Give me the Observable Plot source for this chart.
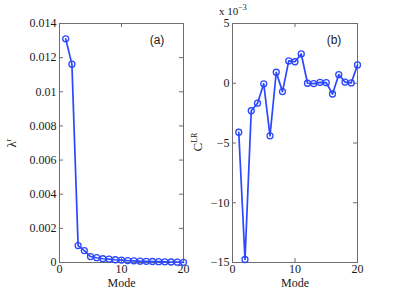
<!DOCTYPE html>
<html>
<head>
<meta charset="utf-8">
<script src="https://cdn.jsdelivr.net/npm/d3@7"></script>
<script src="https://cdn.jsdelivr.net/npm/@observablehq/plot@0.6"></script>
<style>
  html, body { margin: 0; padding: 0; background: #fff; }
  #wrap { position: relative; width: 393px; height: 295px; overflow: hidden; }
  #wrap svg { position: absolute; top: 0; }
</style>
</head>
<body>
<div id="wrap"></div>
<script>
// ---- data ----
const modes = [1,2,3,4,5,6,7,8,9,10,11,12,13,14,15,16,17,18,19,20];
const lambdaR = [0.0131,0.01162,0.00099,0.0007,0.00035,0.00028,0.00022,0.0002,0.00016,0.00014,
                 0.00011,0.0001,0.00008,0.00007,0.00006,0.00005,0.00004,0.00003,0.00002,0.00001];
// C^LR in units of 10^-3
const cLR = [-4.1,-14.75,-2.3,-1.67,-0.05,-4.4,0.92,-0.7,1.87,1.8,
             2.45,0,-0.03,0.08,0.05,-0.9,0.72,0.1,0.03,1.53];
const xTicks = [0,10,20];
const xTickLabels = ["0","10","20"];
const yTicksA = [0,0.002,0.004,0.006,0.008,0.01,0.012,0.014];
const yTickLabelsA = ["0","0.002","0.004","0.006","0.008","0.01","0.012","0.014"];
const yTicksB = [-15,-10,-5,0,5];
const yTickLabelsB = ["\u221215","\u221210","\u22125","0","5"];

const blue = "#2b48ff";
const frameColor = "#6e6e6e";
const textColor = "#1a1a1a";

function panel({values, yDomain, yTicks, yLabels, width, mL, mR}) {
  const mT = 23, mB = 33, H = 295;
  const plotW = width - mL - mR, plotH = H - mT - mB;
  const data = modes.map((m, i) => ({m, v: values[i]}));
  return Plot.plot({
    width, height: H,
    marginLeft: mL, marginRight: mR, marginTop: mT, marginBottom: mB,
    style: {fontFamily: "'Liberation Serif', serif", fontSize: "12px", color: textColor, background: "transparent", overflow: "visible"},
    x: {domain: [0, 20]},
    y: {domain: yDomain},
    marks: [
      Plot.axisX({ticks: xTicks, tickSize: 0, tickPadding: 2, tickFormat: d => xTickLabels[xTicks.indexOf(d)], label: null}),
      Plot.axisY({ticks: yTicks, tickSize: 0, tickPadding: 3, tickFormat: d => yLabels[yTicks.indexOf(d)], label: null}),
      Plot.ruleX(xTicks, {x: d => d, insetTop: plotH - 4, stroke: frameColor}),
      Plot.ruleX(xTicks, {x: d => d, insetBottom: plotH - 4, stroke: frameColor}),
      Plot.ruleY(yTicks, {y: d => d, insetRight: plotW - 4, stroke: frameColor}),
      Plot.ruleY(yTicks, {y: d => d, insetLeft: plotW - 4, stroke: frameColor}),
      Plot.frame({stroke: frameColor}),
      Plot.text(["Mode"], {frameAnchor: "bottom", lineAnchor: "middle", dy: 21, fontSize: 12}),
      Plot.line(data, {x: "m", y: "v", stroke: blue, strokeWidth: 1.7}),
      Plot.dot(data, {x: "m", y: "v", r: 3, stroke: blue, strokeWidth: 1.3, fill: "none"})
    ]
  });
}

const wrap = document.getElementById("wrap");

const left = panel({values: lambdaR, yDomain: [0, 0.014], yTicks: yTicksA, yLabels: yTickLabelsA, width: 200, mL: 59, mR: 17});
left.style.left = "0px";
wrap.appendChild(left);

const right = panel({values: cLR, yDomain: [-15, 5], yTicks: yTicksB, yLabels: yTickLabelsB, width: 197, mL: 36, mR: 36});
right.style.left = "196px";
wrap.appendChild(right);

// ---- annotations ----
function ylabel(svg, x, y, base, sup) {
  const t = d3.select(svg).append("text")
    .attr("transform", `translate(${x},${y}) rotate(-90)`)
    .attr("text-anchor", "middle")
    .attr("fill", textColor)
    .style("font-family", "'Liberation Serif', serif")
    .style("font-size", "13px")
    .text(base);
  t.append("tspan").attr("dy", -5).style("font-size", "8px").text(sup);
}
ylabel(left, 16, 143, "\u03bb", "r");
ylabel(right, 6, 142, "C", "LR");

function panelTag(svg, x, y, s) {
  d3.select(svg).append("text")
    .attr("x", x).attr("y", y)
    .attr("text-anchor", "middle")
    .attr("fill", textColor)
    .style("font-family", "'Liberation Sans', Arial, sans-serif")
    .style("font-size", "12px")
    .text(s);
}
panelTag(left, 157, 44, "(a)");
panelTag(right, 138, 44, "(b)");

const sc = d3.select(right).append("text")
  .attr("x", 37).attr("y", 15)
  .attr("fill", textColor)
  .style("font-family", "'Liberation Serif', serif")
  .style("font-size", "11px")
  .text("x 10");
sc.append("tspan").attr("dy", -5).style("font-size", "8px").text("\u22123");
</script>
</body>
</html>
